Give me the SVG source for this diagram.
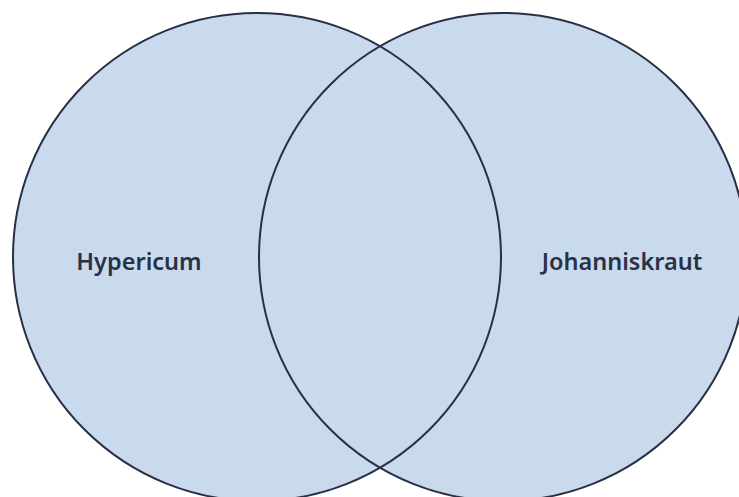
<svg xmlns="http://www.w3.org/2000/svg" width="739" height="497" viewBox="0 0 739 497">
<defs>
<circle id="cl" cx="257" cy="257" r="244"/>
<circle id="cr" cx="503" cy="257" r="244"/>
</defs>
<style>
.f{fill:#c9daec;stroke:none}
.s{fill:none;stroke:#2a2f45;stroke-width:2}
.t{font-family:"Noto Sans","Open Sans",sans-serif;font-weight:600;font-size:23.5px;fill:#2a3147;text-anchor:middle}
</style>
<rect width="739" height="497" fill="#ffffff"/>
<g id="fills">
<use href="#cl" class="f"/>
<use href="#cr" class="f"/>
</g>
<g id="left"><use href="#cl" class="s"/><text class="t" x="139" y="270">Hypericum</text></g>
<g id="right"><use href="#cr" class="s"/><text class="t" x="622" y="270">Johanniskraut</text></g>
<g id="connectors"></g>
</svg>
